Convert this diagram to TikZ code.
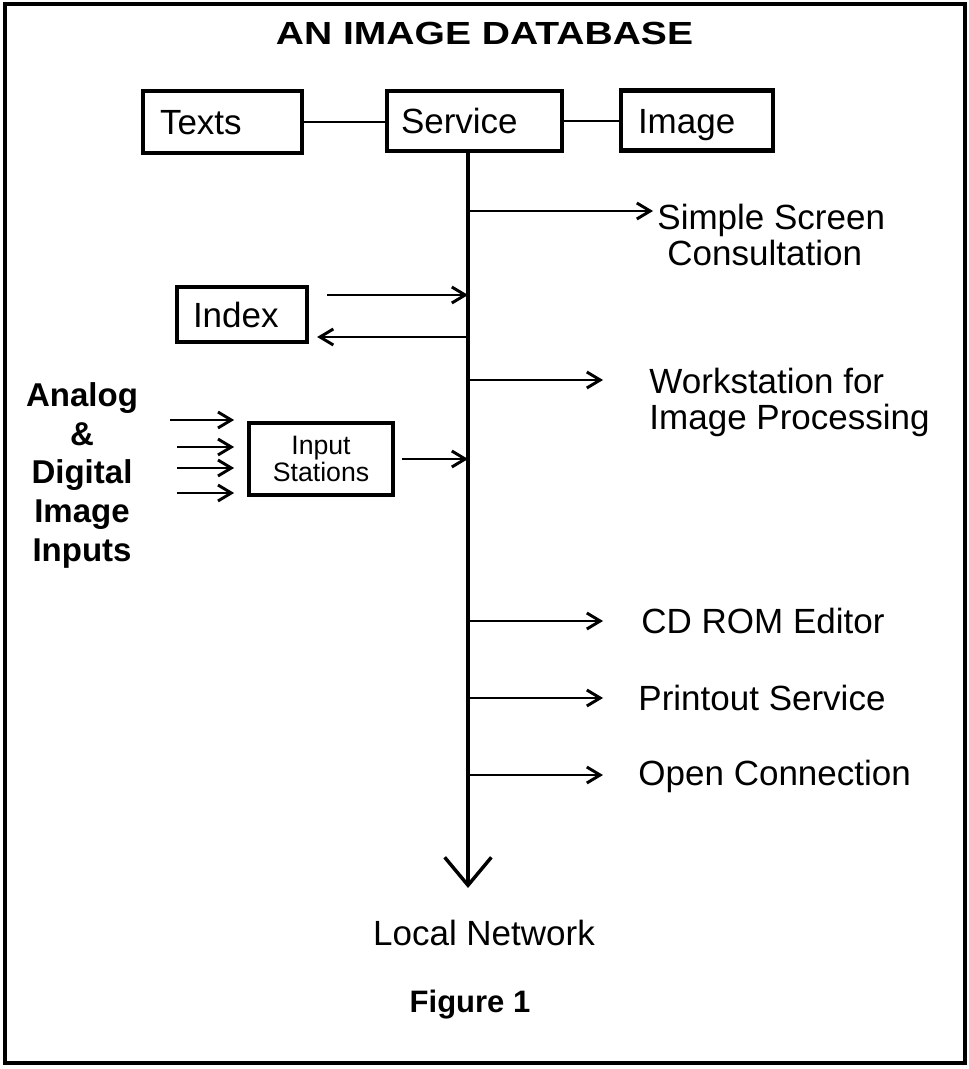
\documentclass[tikz,border=0pt]{standalone}
\usepackage{fontspec}
\setmainfont{Liberation Sans}
\usetikzlibrary{arrows.meta}
\begin{document}
\begin{tikzpicture}[x=0.75pt,y=-0.75pt,
  line width=2.2pt,
  mainfont/.style={font=\fontsize{26.25pt}{27pt}\selectfont},
  box/.style={draw, rectangle, line width=3.2pt, mainfont, text height=18.8pt, text depth=0pt, inner ysep=0pt, align=left},
  lbl/.style={mainfont, inner sep=0pt, align=left},
  arr/.style={-{Straight Barb[length=10pt,width=12pt]}},
  netarr/.style={line width=2.6pt, -{Straight Barb[length=21pt,width=35pt]}}
]
\useasboundingbox (0,0) rectangle (969,1069);
\draw[line width=2.4pt] (5,4) rectangle (965,1063);

% title
\begin{scope}[shift={(484.5,45)}, xscale=1.22]
  \node[transform shape, anchor=base, inner sep=0pt, font=\bfseries\fontsize{24pt}{26pt}\selectfont] (title) at (0,0) {AN IMAGE DATABASE};
\end{scope}

% top boxes
\node[box, minimum height=46.5pt, text width=93.75pt, inner xsep=12.75pt] (texts) at (222.5,122) {Texts};
\node[box, minimum height=45pt, text width=110.25pt, inner xsep=10.5pt] (service) at (474.5,121) {Service};
\node[box, minimum height=45pt, text width=88.5pt, inner xsep=12.75pt] (image) at (697,120.5) {Image};
\draw (texts.east) -- (texts.east -| service.west);
\draw (service.east) -- (service.east -| image.west);

% spine
\coordinate (net) at (468,888);
\draw[netarr] (service.south -| net) -- (net);
\node[lbl, anchor=base] (ln) at (484,945) {Local Network};
\node[anchor=base, inner sep=0pt, font=\bfseries\fontsize{23.25pt}{25pt}\selectfont] (fig) at (470,1012) {Figure 1};

% index
\node[box, minimum height=41.25pt, text width=73.5pt, inner xsep=12pt] (index) at (242,314.5) {Index};
\coordinate (ixa) at (0,295);
\coordinate (ixb) at (0,337);
\draw[arr, shorten <=13.5pt] (index.east |- ixa) -- (net |- ixa);
\draw[arr, shorten >=6pt] (net |- ixb) -- (index.east |- ixb);

% input stations
\node[draw, rectangle, line width=2.8pt, minimum width=108pt, minimum height=54pt, inner sep=0pt, align=center,
      font=\fontsize{20pt}{20.25pt}\selectfont] (inst) at (321,459) {Input\\Stations};
\draw[arr, shorten <=5.25pt] (inst.east) -- (inst.east -| net);
\coordinate (in1) at (170,420);
\coordinate (in2) at (177,447);
\coordinate (in3) at (177,468);
\coordinate (in4) at (177,493);
\foreach \c in {in1,in2,in3,in4}
  \draw[arr, shorten >=9.75pt] (\c) -- (\c -| inst.west);

\node[anchor=north, inner sep=0pt, align=center, font=\bfseries\fontsize{24.75pt}{28.9pt}\selectfont] (src) at (82,381.5)
  {Analog\\\&\\Digital\\Image\\Inputs};

% outputs
\node[lbl, anchor=north west] (ss) at (656,202.5) {Simple Screen\\\hspace*{7.5pt}Consultation};
\node[lbl, anchor=north west] (ws) at (648,366.5) {Workstation for\\Image Processing};
\node[lbl, anchor=base west] (cd) at (640,633) {CD ROM Editor};
\node[lbl, anchor=base west] (po) at (637,710) {Printout Service};
\node[lbl, anchor=base west] (oc) at (637,785) {Open Connection};

\coordinate (ssT) at (653,211);
\coordinate (wsT) at (603,380);
\coordinate (cdT) at (603,621);
\coordinate (poT) at (603,698);
\coordinate (ocT) at (603,775);
\foreach \t in {ssT,wsT,cdT,poT,ocT}
  \draw[arr] (net |- \t) -- (\t);
\end{tikzpicture}
\end{document}
